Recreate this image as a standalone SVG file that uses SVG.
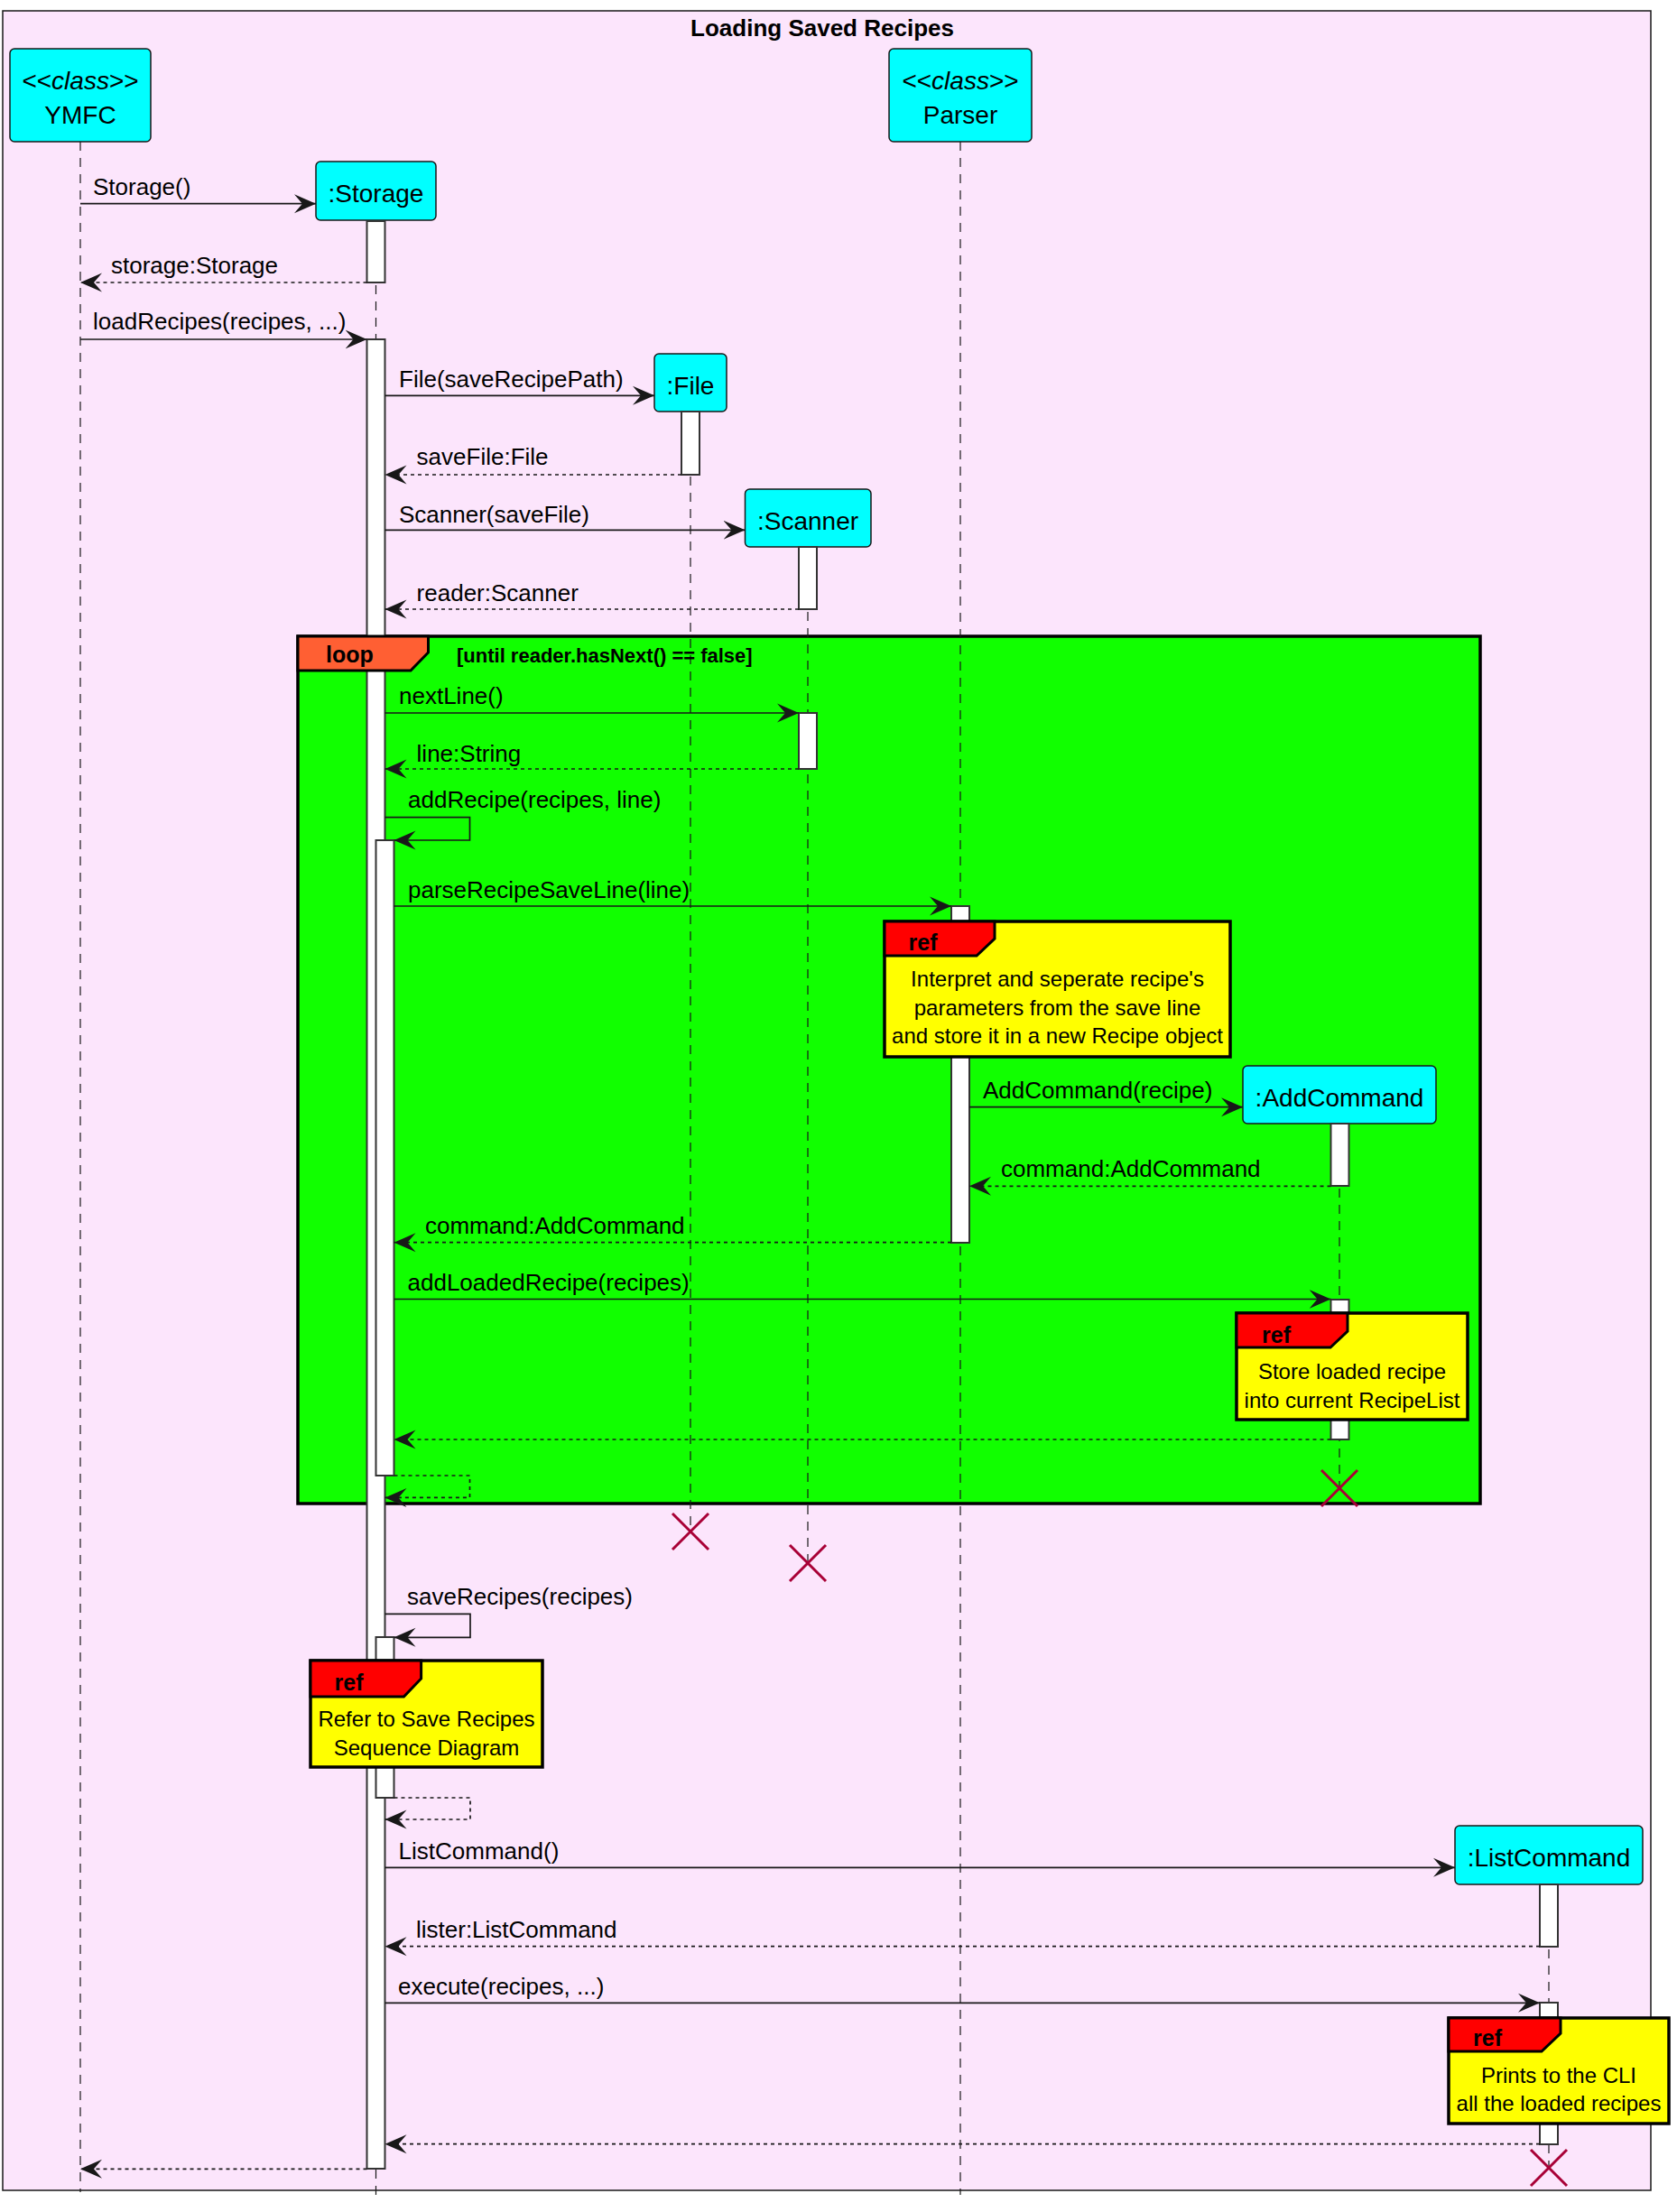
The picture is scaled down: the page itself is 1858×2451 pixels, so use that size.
<svg xmlns="http://www.w3.org/2000/svg" width="1858" height="2451" viewBox="0 0 1858 2451">
<defs>
<style>
text{font-family:"Liberation Sans",Arial,sans-serif;fill:#000}
.title{font-size:26px;font-weight:bold;text-anchor:middle}
.pn{font-size:28px;text-anchor:middle}
.box{fill:#00FFFF;stroke:#181818;stroke-width:1.5}
.life{stroke:#181818;stroke-width:1.2;stroke-dasharray:10,8;fill:none}
.act{fill:#FFFFFF;stroke:#333333;stroke-width:2}
.msg{font-size:26px}
.m{stroke:#181818;stroke-width:1.7;fill:none;marker-end:url(#arr)}
.r{stroke:#181818;stroke-width:1.7;fill:none;stroke-dasharray:4,4;marker-end:url(#arr)}
.tag{font-size:25px;font-weight:bold}
.cond{font-size:22px;font-weight:bold}
.refbox{fill:#FFFF00;stroke:#000;stroke-width:3.5}
.reftab{fill:#FF0000;stroke:#000;stroke-width:3}
.reft{font-size:24px;text-anchor:middle}
.x{stroke:#A80036;stroke-width:3;fill:none}
</style>
<marker id="arr" markerUnits="userSpaceOnUse" markerWidth="26" markerHeight="22" refX="24" refY="11" orient="auto">
<path d="M0,0.5 L24,11 L0,21.5 L9,11 Z" fill="#181818"/>
</marker>
</defs>

<g id="frame">
<rect x="3" y="12" width="1826" height="2415" fill="#FCE5FC" stroke="#181818" stroke-width="1.5"/>
<text class="title" x="911" y="40">Loading Saved Recipes</text>
</g>

<g id="loop-bg">
<rect x="330" y="705" width="1310" height="961" fill="#11FF00" stroke="#000" stroke-width="3.5"/>
</g>

<g id="YMFC">
<line class="life" x1="89" y1="157" x2="89" y2="2429"/>
<rect class="box" x="11" y="54" width="156" height="103" rx="5"/>
<text class="pn" x="89" y="99">&lt;&lt;<tspan font-style="italic">class</tspan>&gt;&gt;</text>
<text class="pn" x="89" y="136.5">YMFC</text>
</g>

<g id="Parser">
<line class="life" x1="1064" y1="157" x2="1064" y2="2432"/>
<rect class="box" x="985" y="54" width="158" height="103" rx="5"/>
<text class="pn" x="1064" y="99">&lt;&lt;<tspan font-style="italic">class</tspan>&gt;&gt;</text>
<text class="pn" x="1064" y="136.5">Parser</text>
<rect class="act" x="1054" y="1004" width="20" height="373"/>
</g>

<g id="Storage">
<line class="life" x1="416.5" y1="244" x2="416.5" y2="2432"/>
<rect class="box" x="350" y="179" width="133" height="65" rx="5"/>
<text class="pn" x="416.5" y="223.5">:Storage</text>
<rect class="act" x="406.5" y="245" width="20" height="68"/>
<rect class="act" x="406.5" y="376" width="20" height="2027"/>
<rect class="act" x="416.5" y="931" width="20" height="704"/>
<rect class="act" x="416.5" y="1814" width="20" height="178"/>
</g>

<g id="File">
<line class="life" x1="765" y1="456" x2="765" y2="1697"/>
<rect class="box" x="725" y="392" width="80" height="64" rx="5"/>
<text class="pn" x="765" y="436.5">:File</text>
<rect class="act" x="755" y="456" width="20" height="70"/>
</g>

<g id="Scanner">
<line class="life" x1="895" y1="606" x2="895" y2="1732"/>
<rect class="box" x="825.5" y="542" width="139.5" height="64" rx="5"/>
<text class="pn" x="895" y="586.5">:Scanner</text>
<rect class="act" x="885" y="606" width="20" height="69"/>
<rect class="act" x="885" y="790" width="20" height="62"/>
</g>

<g id="AddCommand">
<line class="life" x1="1484" y1="1245" x2="1484" y2="1649"/>
<rect class="box" x="1377" y="1181" width="214" height="64" rx="5"/>
<text class="pn" x="1484" y="1225.5">:AddCommand</text>
<rect class="act" x="1474.5" y="1245" width="20" height="69"/>
<rect class="act" x="1474.5" y="1440" width="20" height="155"/>
</g>

<g id="ListCommand">
<line class="life" x1="1716" y1="2088" x2="1716" y2="2402"/>
<rect class="box" x="1612" y="2023" width="208" height="65" rx="5"/>
<text class="pn" x="1716" y="2067.5">:ListCommand</text>
<rect class="act" x="1706" y="2088" width="20" height="69"/>
<rect class="act" x="1706" y="2219" width="20" height="157"/>
</g>

<g id="loop-header">
<polygon points="330,705 474.5,705 474.5,723 455,743 330,743" fill="#FF5F33" stroke="#000" stroke-width="3"/>
<text class="tag" x="361" y="734">loop</text>
<text class="cond" x="506" y="734">[until reader.hasNext() == false]</text>
</g>

<g id="connectors">
<line class="m" x1="89" y1="225.7" x2="350" y2="225.7"/>
<text class="msg" x="103" y="216">Storage()</text>
<line class="r" x1="406.5" y1="313" x2="89" y2="313"/>
<text class="msg" x="123" y="303">storage:Storage</text>
<line class="m" x1="89" y1="376" x2="406.5" y2="376"/>
<text class="msg" x="103" y="365">loadRecipes(recipes, ...)</text>
<line class="m" x1="426.5" y1="438.3" x2="725" y2="438.3"/>
<text class="msg" x="442" y="429">File(saveRecipePath)</text>
<line class="r" x1="755" y1="526" x2="426.5" y2="526"/>
<text class="msg" x="461.6" y="515">saveFile:File</text>
<line class="m" x1="426.5" y1="587.3" x2="825.5" y2="587.3"/>
<text class="msg" x="442" y="579">Scanner(saveFile)</text>
<line class="r" x1="885" y1="675" x2="426.5" y2="675"/>
<text class="msg" x="461.6" y="666">reader:Scanner</text>
<line class="m" x1="426.5" y1="790" x2="885" y2="790"/>
<text class="msg" x="442" y="780">nextLine()</text>
<line class="r" x1="885" y1="852" x2="426.5" y2="852"/>
<text class="msg" x="461.6" y="843.5">line:String</text>
<polyline class="m" points="426.5,905.7 520.5,905.7 520.5,931 436.5,931"/>
<text class="msg" x="452" y="895">addRecipe(recipes, line)</text>
<line class="m" x1="436.5" y1="1004" x2="1054" y2="1004"/>
<text class="msg" x="452" y="995">parseRecipeSaveLine(line)</text>
<line class="m" x1="1074" y1="1226.7" x2="1377" y2="1226.7"/>
<text class="msg" x="1089" y="1217">AddCommand(recipe)</text>
<line class="r" x1="1474.5" y1="1314.3" x2="1074" y2="1314.3"/>
<text class="msg" x="1109" y="1303.5">command:AddCommand</text>
<line class="r" x1="1054" y1="1376.7" x2="436.5" y2="1376.7"/>
<text class="msg" x="471" y="1367">command:AddCommand</text>
<line class="m" x1="436.5" y1="1439.5" x2="1474.5" y2="1439.5"/>
<text class="msg" x="451.5" y="1430">addLoadedRecipe(recipes)</text>
<line class="r" x1="1474.5" y1="1595" x2="436.5" y2="1595"/>
<polyline class="r" points="436.5,1635 520.5,1635 520.5,1659.4 426.5,1659.4"/>
<polyline class="m" points="426.5,1788.3 521,1788.3 521,1814.3 436.5,1814.3"/>
<text class="msg" x="451" y="1778">saveRecipes(recipes)</text>
<polyline class="r" points="436.5,1992 521,1992 521,2016 426.5,2016"/>
<line class="m" x1="426.5" y1="2069.3" x2="1612" y2="2069.3"/>
<text class="msg" x="441.6" y="2060">ListCommand()</text>
<line class="r" x1="1706" y1="2156.7" x2="426.5" y2="2156.7"/>
<text class="msg" x="461" y="2147">lister:ListCommand</text>
<line class="m" x1="426.5" y1="2219.3" x2="1706" y2="2219.3"/>
<text class="msg" x="441" y="2210">execute(recipes, ...)</text>
<line class="r" x1="1706" y1="2375.7" x2="426.5" y2="2375.7"/>
<line class="r" x1="406.5" y1="2403.3" x2="89" y2="2403.3"/>
</g>

<g id="ref-parse">
<rect class="refbox" x="980" y="1021" width="383" height="150"/>
<polygon class="reftab" points="980,1021 1102,1021 1102,1040 1082,1059 980,1059"/>
<text class="tag" x="1006.5" y="1053">ref</text>
<text class="reft" x="1171.5" y="1093">Interpret and seperate recipe's</text>
<text class="reft" x="1171.5" y="1124.5">parameters from the save line</text>
<text class="reft" x="1171.5" y="1156">and store it in a new Recipe object</text>
</g>

<g id="ref-store">
<rect class="refbox" x="1370" y="1455" width="256" height="118"/>
<polygon class="reftab" points="1370,1455 1493,1455 1493,1475 1474,1493 1370,1493"/>
<text class="tag" x="1398" y="1488">ref</text>
<text class="reft" x="1498" y="1528">Store loaded recipe</text>
<text class="reft" x="1498" y="1560">into current RecipeList</text>
</g>

<g id="ref-save">
<rect class="refbox" x="344" y="1840" width="257" height="118"/>
<polygon class="reftab" points="344,1840 466.6,1840 466.6,1860 447.4,1880 344,1880"/>
<text class="tag" x="370.6" y="1873">ref</text>
<text class="reft" x="472.5" y="1913">Refer to Save Recipes</text>
<text class="reft" x="472.5" y="1945">Sequence Diagram</text>
</g>

<g id="ref-print">
<rect class="refbox" x="1605" y="2236" width="244" height="117"/>
<polygon class="reftab" points="1605,2236 1729,2236 1729,2253 1708,2273 1605,2273"/>
<text class="tag" x="1632" y="2267">ref</text>
<text class="reft" x="1727" y="2308">Prints to the CLI</text>
<text class="reft" x="1727" y="2339">all the loaded recipes</text>
</g>

<g id="destroys">
<path class="x" d="M745,1677 L785,1717 M785,1677 L745,1717"/>
<path class="x" d="M875,1712 L915,1752 M915,1712 L875,1752"/>
<path class="x" d="M1464,1629 L1504,1669 M1504,1629 L1464,1669"/>
<path class="x" d="M1696,2382 L1736,2422 M1736,2382 L1696,2422"/>
</g>
</svg>
